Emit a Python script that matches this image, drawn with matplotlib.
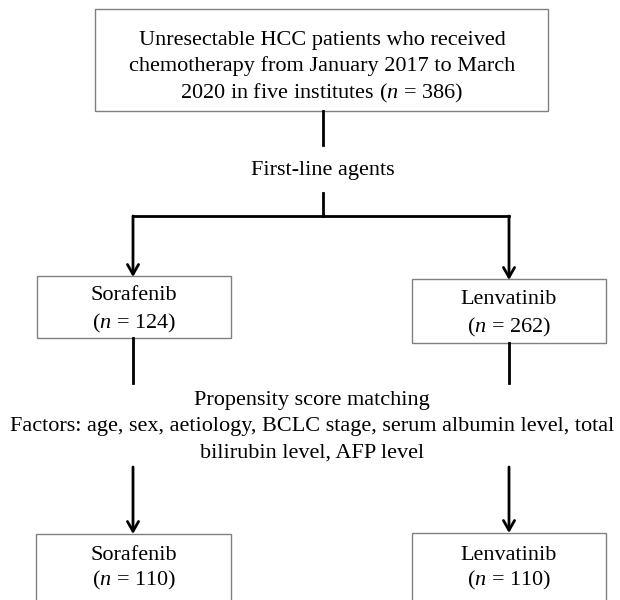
import matplotlib
matplotlib.use("Agg")
import matplotlib.pyplot as plt
from matplotlib.patches import Rectangle

plt.rcParams['font.family'] = ['Liberation Serif', 'DejaVu Serif']
plt.rcParams['mathtext.fontset'] = 'custom'
plt.rcParams['mathtext.rm'] = 'Liberation Serif'
plt.rcParams['mathtext.it'] = 'Liberation Serif:italic'

# Content
top_text = ["Unresectable HCC patients who received",
            "chemotherapy from January 2017 to March",
            "2020 in five institutes ($n$ = 386)"]
split_label = "First-line agents"
arms = ["Sorafenib", "Lenvatinib"]
counts_before = [124, 262]
counts_after = [110, 110]
psm_text = ["Propensity score matching",
            "Factors: age, sex, aetiology, BCLC stage, serum albumin level, total",
            "bilirubin level, AFP level"]

W, H = 620, 600
fig = plt.figure(figsize=(W / 100, H / 100), dpi=100)
ax = fig.add_axes([0, 0, 1, 1])
ax.set_xlim(0, W)
ax.set_ylim(H, 0)
ax.axis('off')

FS = 16
BOX_EC = '#808080'
LW = 2.0

def box(x0, y0, x1, y1):
    ax.add_patch(Rectangle((x0, y0), x1 - x0, y1 - y0, fill=False,
                           ec=BOX_EC, lw=1.0))

def line(x0, y0, x1, y1):
    ax.plot([x0, x1], [y0, y1], color='black', lw=LW, solid_capstyle='projecting')

def arrow(x, y0, y1):
    ax.annotate('', xy=(x, y1), xytext=(x, y0),
                arrowprops=dict(arrowstyle='->,head_length=0.7,head_width=0.4',
                                color='black', lw=LW, shrinkA=0, shrinkB=0))

# Top box
box(95, 9, 548, 111)
for i, t in enumerate(top_text):
    ax.text(322, 40 + i * 26.5, t, ha='center', va='center', fontsize=FS)

line(323, 111, 323, 145)
ax.text(323, 170, split_label, ha='center', va='center', fontsize=FS)
line(323, 193, 323, 216)
line(133, 216, 509, 216)

lx, rx = 133, 509
arrow(lx, 216, 277)
arrow(rx, 216, 280)

# First-level boxes
box(37, 276, 231, 338)
ax.text(134, 296, arms[0], ha='center', va='center', fontsize=FS)
ax.text(134, 323, f"($n$ = {counts_before[0]})", ha='center', va='center', fontsize=FS)

box(412, 279, 606, 343)
ax.text(509, 300, arms[1], ha='center', va='center', fontsize=FS)
ax.text(509, 327, f"($n$ = {counts_before[1]})", ha='center', va='center', fontsize=FS)

line(lx, 338, lx, 383)
line(rx, 343, rx, 383)

for i, t in enumerate(psm_text):
    ax.text(312, 400 + i * 26.5, t, ha='center', va='center', fontsize=FS)

arrow(lx, 467, 534)
arrow(rx, 467, 533)

# Matched boxes
box(36, 534, 231, 605)
ax.text(134, 556, arms[0], ha='center', va='center', fontsize=FS)
ax.text(134, 580, f"($n$ = {counts_after[0]})", ha='center', va='center', fontsize=FS)

box(412, 533, 606, 605)
ax.text(509, 556, arms[1], ha='center', va='center', fontsize=FS)
ax.text(509, 580, f"($n$ = {counts_after[1]})", ha='center', va='center', fontsize=FS)

fig.savefig('out.png', dpi=100, facecolor='white')
